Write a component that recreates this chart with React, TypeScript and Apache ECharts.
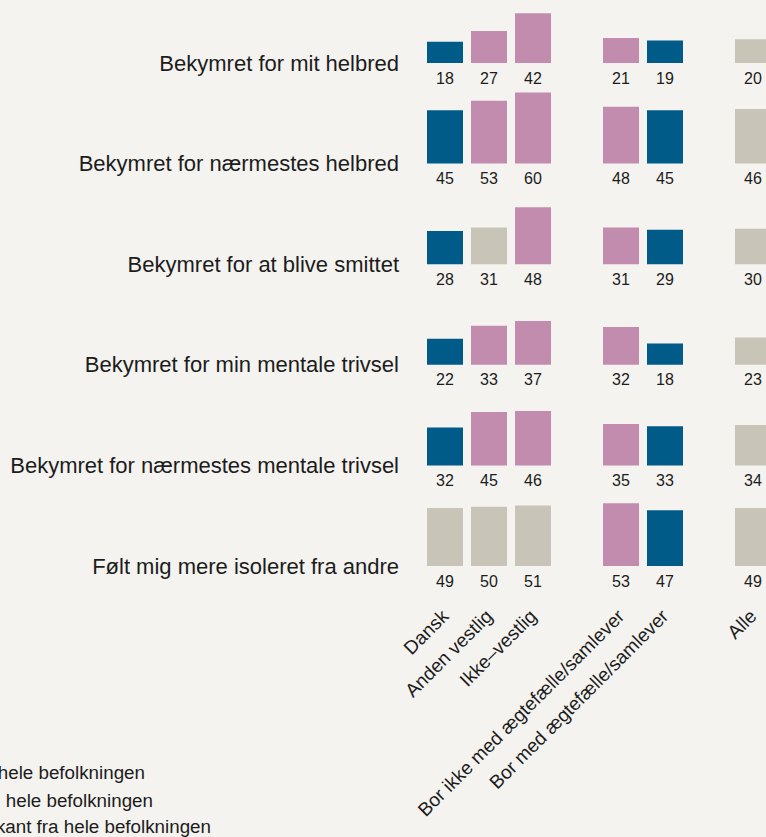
import React, { useEffect, useRef } from "react";
import * as echarts from "echarts";

const columns = ["Dansk", "Anden vestlig", "Ikke–vestlig", "", "Bor ikke med ægtefælle/samlever", "Bor med ægtefælle/samlever", " ", "Alle"];
const rowLabels = [
  "Bekymret for mit helbred",
  "Bekymret for nærmestes helbred",
  "Bekymret for at blive smittet",
  "Bekymret for min mentale trivsel",
  "Bekymret for nærmestes mentale trivsel",
  "Følt mig mere isoleret fra andre",
];
// values per row, in column order (null = gap between groups)
const row1 = [18, 27, 42, null, 21, 19, null, 20];
const row2 = [45, 53, 60, null, 48, 45, null, 46];
const row3 = [28, 31, 48, null, 31, 29, null, 30];
const row4 = [22, 33, 37, null, 32, 18, null, 23];
const row5 = [32, 45, 46, null, 35, 33, null, 34];
const row6 = [49, 50, 51, null, 53, 47, null, 49];
// significance: L = lower, H = higher, N = not different
const sig1 = ["L", "H", "H", "", "H", "L", "", "N"];
const sig2 = ["L", "H", "H", "", "H", "L", "", "N"];
const sig3 = ["L", "N", "H", "", "H", "L", "", "N"];
const sig4 = ["L", "H", "H", "", "H", "L", "", "N"];
const sig5 = ["L", "H", "H", "", "H", "L", "", "N"];
const sig6 = ["N", "N", "N", "", "H", "L", "", "N"];
const legendTexts = [
  "Signifikant højere end i hele befolkningen",
  "Signifikant lavere end i hele befolkningen",
  "Afviger ikke signifikant fra hele befolkningen",
];

const rows = [row1, row2, row3, row4, row5, row6];
const sigs = [sig1, sig2, sig3, sig4, sig5, sig6];

const COLORS: Record<string, string> = { L: "#005b88", H: "#c28cae", N: "#c8c4b8" };
const FONT = "'Liberation Sans', Arial, Helvetica, sans-serif";
const TEXT = "#1c1c1c";
const OFF = 40; // chart canvas extends above the visible page by this amount

export default function App() {
  const ref = useRef<HTMLDivElement>(null);
  useEffect(() => {
    if (!ref.current) return;
    const chart = echarts.init(ref.current, undefined, { renderer: "svg" });
    const baseline0 = 63 + OFF;
    const step = 100.6;
    const yMax = 70;
    const h = yMax * 1.185;
    const grids: any[] = [];
    const xAxes: any[] = [];
    const yAxes: any[] = [];
    const series: any[] = [];
    const graphics: any[] = [];
    rows.forEach((vals, i) => {
      const base = baseline0 + step * i;
      grids.push({ left: 423, width: 352, top: base - h, height: h, containLabel: false });
      const last = i === rows.length - 1;
      xAxes.push({
        type: "category",
        gridIndex: i,
        data: columns,
        axisLine: { show: false },
        axisTick: { show: false },
        axisLabel: {
          show: last,
          rotate: 45,
          interval: 0,
          margin: 47,
          fontSize: 19,
          color: TEXT,
          fontFamily: FONT,
        },
      });
      yAxes.push({ type: "value", gridIndex: i, min: 0, max: yMax, show: false, splitLine: { show: false } });
      series.push({
        type: "bar",
        xAxisIndex: i,
        yAxisIndex: i,
        barWidth: 36,
        data: vals.map((v, j) => (v == null ? null : { value: v, itemStyle: { color: COLORS[sigs[i][j]] } })),
        label: {
          show: true,
          position: "bottom",
          distance: 7,
          fontSize: 16,
          color: TEXT,
          fontFamily: FONT,
        },
      });
      graphics.push({
        type: "text",
        x: 399,
        y: base,
        style: {
          text: rowLabels[i],
          textAlign: "right",
          textVerticalAlign: "middle",
          fontSize: 22,
          fill: TEXT,
          fontFamily: FONT,
        },
      });
    });
    const legendEnds = [145, 153, 211];
    const legendY = [772, 800, 826];
    legendTexts.forEach((t, k) => {
      graphics.push({
        type: "text",
        x: legendEnds[k],
        y: legendY[k] + OFF,
        style: {
          text: t,
          textAlign: "right",
          textVerticalAlign: "middle",
          fontSize: 18.8,
          fill: TEXT,
          fontFamily: FONT,
        },
      });
    });
    chart.setOption({
      animation: false,
      backgroundColor: "#f4f3ef",
      grid: grids,
      xAxis: xAxes,
      yAxis: yAxes,
      series,
      graphic: graphics,
    });
    return () => chart.dispose();
  }, []);
  return (
    <div
      style={{ position: "absolute", left: 0, top: 0, width: 766, height: 837, overflow: "hidden", background: "#f4f3ef" }}
    >
      <div ref={ref} style={{ position: "absolute", left: 0, top: -OFF, width: 800, height: 837 + OFF }} />
    </div>
  );
}
